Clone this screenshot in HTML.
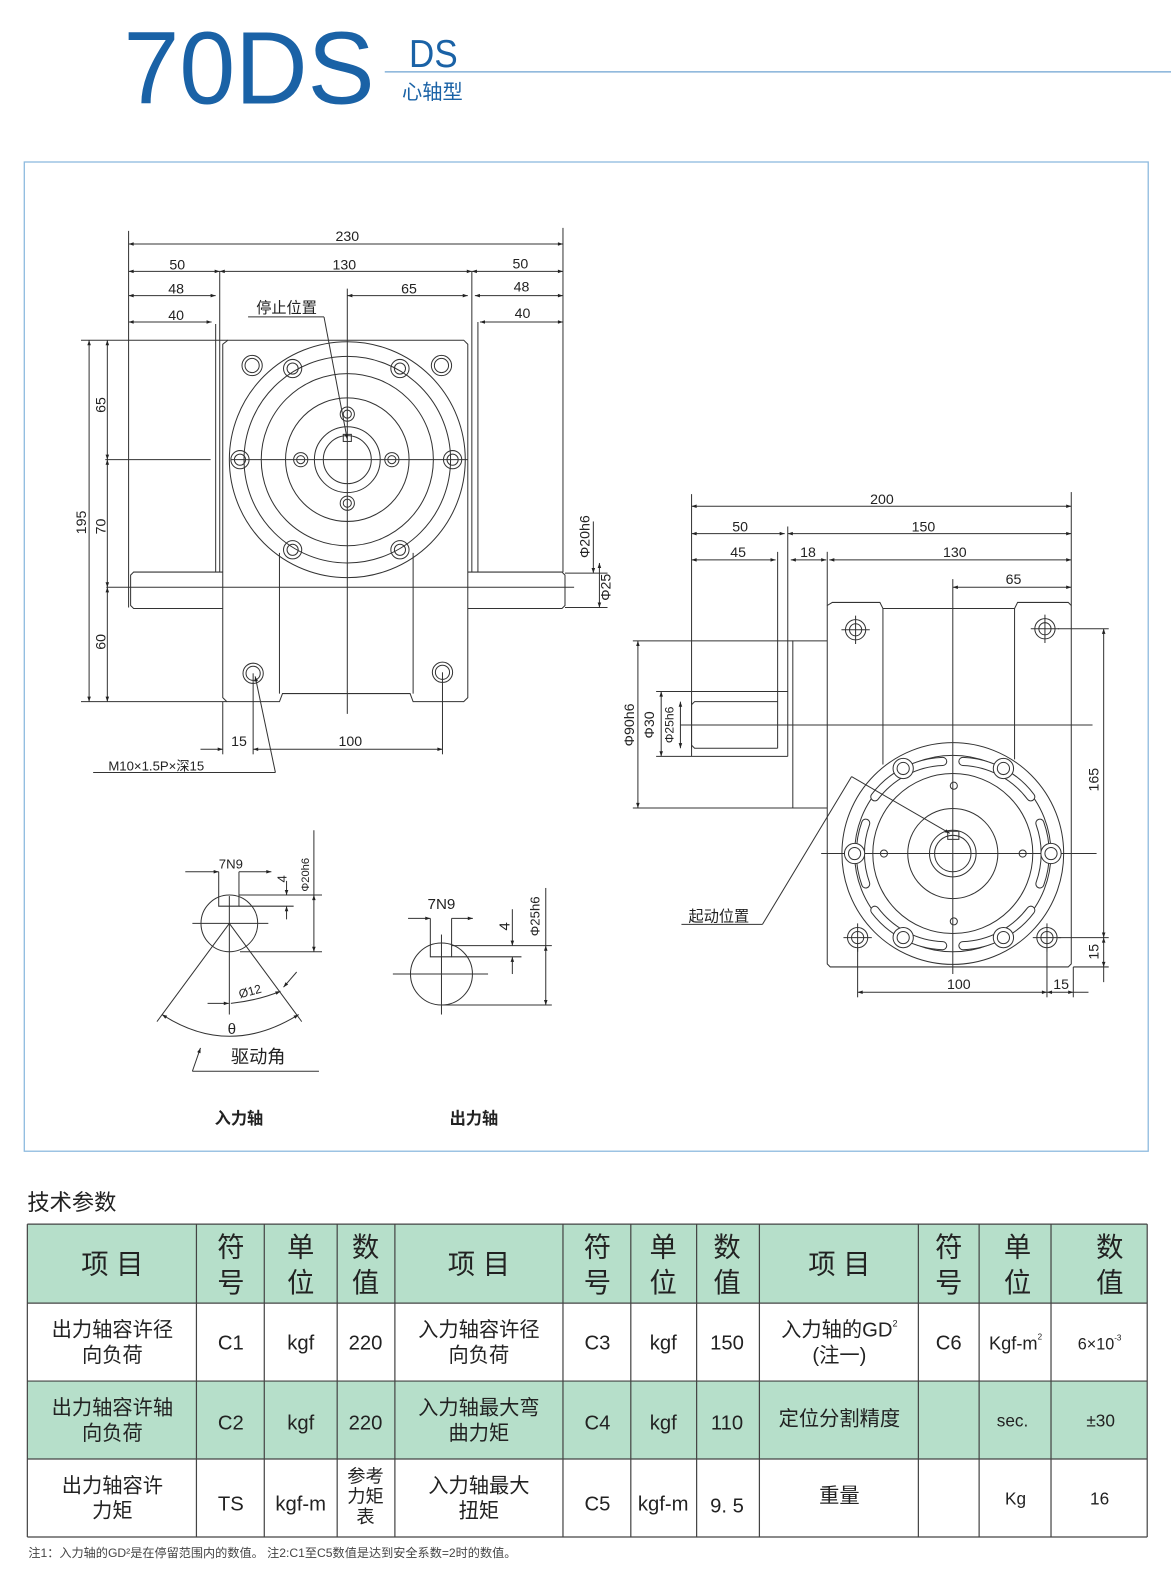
<!DOCTYPE html>
<html><head><meta charset="utf-8"><style>
html,body{margin:0;padding:0;background:#fff;}
svg{display:block;}
text{font-family:"Liberation Sans","Noto Sans CJK SC",sans-serif;fill:#222;}
</style></head><body>
<svg width="1171" height="1587" viewBox="0 0 1156.5 1567.4" preserveAspectRatio="none" xmlns="http://www.w3.org/2000/svg">
<defs>
<marker id="a" viewBox="0 0 10 10" refX="10" refY="5" markerWidth="7" markerHeight="5" orient="auto-start-reverse"><path d="M0,1.5 L10,5 L0,8.5z" fill="#222"/></marker>
</defs>
<!-- title -->
<text x="122" y="102" font-size="102" style="fill:#1a62a6" textLength="248" lengthAdjust="spacingAndGlyphs">70DS</text>
<text x="404" y="66" font-size="38" style="fill:#1a62a6" textLength="48" lengthAdjust="spacingAndGlyphs">DS</text>
<text x="397" y="98" font-size="20" style="fill:#1a62a6">心轴型</text>
<line x1="380" y1="71" x2="1157" y2="71" stroke="#6fa3d2" stroke-width="1.2"/>
<rect x="24" y="160" width="1110" height="977" fill="none" stroke="#8fbbdf" stroke-width="1.3"/>

<g stroke="#333" stroke-width="1" fill="none">
<!-- LEFT VIEW -->
<path d="M225,336 L458,336 L462,340 L462,689 L458,693 L408,693 L405,685 L279,685 L276,693 L224,693 L220,689 L220,340 Z"/>
<line x1="276" y1="546" x2="276" y2="685"/><line x1="408" y1="546" x2="408" y2="685"/>
<circle cx="343" cy="454" r="116.5"/><circle cx="343" cy="454" r="102"/><circle cx="343" cy="454" r="85"/>
<circle cx="343" cy="454" r="61"/><circle cx="343" cy="454" r="32.5"/><circle cx="343" cy="454" r="23.7"/>
<rect x="339" y="429" width="8" height="7"/>
<circle cx="249" cy="361" r="10"/><circle cx="249" cy="361" r="7"/>
<circle cx="436" cy="361" r="10"/><circle cx="436" cy="361" r="7"/>
<circle cx="250" cy="665" r="10"/><circle cx="250" cy="665" r="7"/>
<circle cx="437" cy="664" r="10"/><circle cx="437" cy="664" r="7"/>
<circle cx="289" cy="364" r="9"/><circle cx="289" cy="364" r="5.5"/>
<circle cx="395" cy="364" r="9"/><circle cx="395" cy="364" r="5.5"/>
<circle cx="289" cy="543" r="9"/><circle cx="289" cy="543" r="5.5"/>
<circle cx="395" cy="543" r="9"/><circle cx="395" cy="543" r="5.5"/>
<circle cx="237" cy="454" r="9"/><circle cx="237" cy="454" r="5.5"/>
<circle cx="447" cy="454" r="9"/><circle cx="447" cy="454" r="5.5"/>
<circle cx="343" cy="409" r="7"/><circle cx="343" cy="409" r="4"/>
<circle cx="343" cy="497" r="7"/><circle cx="343" cy="497" r="4"/>
<circle cx="297" cy="454" r="7"/><circle cx="297" cy="454" r="4"/>
<circle cx="387" cy="454" r="7"/><circle cx="387" cy="454" r="4"/>
<!-- shafts -->
<path d="M220,565 L132,565 L129,568 L129,598 L132,601 L220,601"/>
<path d="M462,565 L555,565 L558,568 L558,598 L555,601 L462,601"/>
<line x1="213" y1="320" x2="213" y2="565"/><line x1="217" y1="268" x2="217" y2="565"/>
<line x1="466" y1="268" x2="466" y2="565"/><line x1="472" y1="318" x2="472" y2="565"/>
<line x1="127" y1="228" x2="127" y2="600"/><line x1="556" y1="225" x2="556" y2="565"/>
<!-- centerlines -->
<line x1="104" y1="454" x2="208" y2="454"/><line x1="228" y1="454" x2="462" y2="454"/>
<line x1="105" y1="580" x2="567" y2="580"/>
<line x1="343" y1="285" x2="343" y2="705"/>
<line x1="80" y1="336" x2="225" y2="336"/><line x1="80" y1="693" x2="224" y2="693"/>
<!-- top dims -->
<line x1="127" y1="241" x2="556" y2="241" marker-start="url(#a)" marker-end="url(#a)"/>
<line x1="127" y1="268" x2="217" y2="268" marker-start="url(#a)" marker-end="url(#a)"/>
<line x1="217" y1="268" x2="466" y2="268" marker-start="url(#a)" marker-end="url(#a)"/>
<line x1="466" y1="268" x2="556" y2="268" marker-start="url(#a)" marker-end="url(#a)"/>
<line x1="127" y1="292" x2="213" y2="292" marker-start="url(#a)" marker-end="url(#a)"/>
<line x1="343" y1="292" x2="462" y2="292" marker-start="url(#a)" marker-end="url(#a)"/>
<line x1="469" y1="292" x2="556" y2="292" marker-start="url(#a)" marker-end="url(#a)"/>
<line x1="127" y1="318" x2="209" y2="318" marker-start="url(#a)" marker-end="url(#a)"/>
<line x1="474" y1="318" x2="556" y2="318" marker-start="url(#a)" marker-end="url(#a)"/>
<line x1="245" y1="313" x2="320" y2="313"/><line x1="320" y1="313" x2="343" y2="434" marker-end="url(#a)"/>
<!-- left vertical dims -->
<line x1="88" y1="336" x2="88" y2="693" marker-start="url(#a)" marker-end="url(#a)"/>
<line x1="106" y1="336" x2="106" y2="454" marker-start="url(#a)" marker-end="url(#a)"/>
<line x1="106" y1="454" x2="106" y2="580" marker-start="url(#a)" marker-end="url(#a)"/>
<line x1="106" y1="580" x2="106" y2="693" marker-start="url(#a)" marker-end="url(#a)"/>
<!-- right shaft dims -->
<line x1="558" y1="566" x2="600" y2="566"/><line x1="558" y1="600" x2="600" y2="600"/>
<line x1="586" y1="515" x2="586" y2="566" marker-end="url(#a)"/>
<line x1="592" y1="556" x2="592" y2="600" marker-start="url(#a)" marker-end="url(#a)"/>
<!-- bottom dims -->
<line x1="220" y1="693" x2="220" y2="745"/><line x1="250" y1="665" x2="250" y2="745"/><line x1="437" y1="664" x2="437" y2="745"/>
<line x1="198" y1="740" x2="220" y2="740" marker-end="url(#a)"/>
<line x1="250" y1="740" x2="437" y2="740" marker-start="url(#a)" marker-end="url(#a)"/>
<line x1="92" y1="763" x2="272" y2="763"/><line x1="272" y1="763" x2="252" y2="668" marker-end="url(#a)"/>

<!-- RIGHT VIEW -->
<path d="M822,595 L869,595 L872,601 L1002,601 L1005,595 L1055,595 L1058,598 L1058,952 L1055,955 L820,955 L817,952 L817,598 Z"/>
<line x1="872" y1="601" x2="872" y2="755"/><line x1="1002" y1="601" x2="1002" y2="750"/>
<path d="M817,633 L783,633 L783,798 L817,798"/>
<path d="M778,683 L683,683 M683,693 L683,739 M778,747 L683,747"/>
<path d="M768,693 L686,693 L683,696 M683,736 L686,739 L768,739"/>
<line x1="683" y1="488" x2="683" y2="747"/>
<line x1="768" y1="545" x2="768" y2="739"/><line x1="778" y1="520" x2="778" y2="747"/>
<line x1="817" y1="545" x2="817" y2="598"/><line x1="1058" y1="486" x2="1058" y2="598"/>
<line x1="941" y1="572" x2="941" y2="962"/>
<line x1="672" y1="716" x2="1079" y2="716"/>
<line x1="811" y1="843" x2="1083" y2="843"/>
<circle cx="941" cy="843" r="109.5"/><circle cx="941" cy="843" r="97"/><circle cx="941" cy="843" r="79"/>
<circle cx="941" cy="843" r="44.5"/><circle cx="941" cy="843" r="23"/><circle cx="941" cy="843" r="18"/>
<rect x="936" y="821" width="11" height="8"/>
<circle cx="845" cy="622" r="10"/><circle cx="1032" cy="621" r="10"/><circle cx="847" cy="926" r="10"/><circle cx="1034" cy="926" r="10"/>
<circle cx="845" cy="622" r="6"/><circle cx="1032" cy="621" r="6"/><circle cx="847" cy="926" r="6"/><circle cx="1034" cy="926" r="6"/>
<path d="M831,622 h28 M845,608 v28 M1018,621 h28 M1032,607 v28 M833,926 h28 M847,912 v28 M1020,926 h28 M1034,912 v28"/>
<!-- slots -->
<path d="M864,787 A88,88 0 0 1 931,752" stroke-width="9" stroke-linecap="round"/>
<path d="M864,787 A88,88 0 0 1 931,752" stroke-width="7" stroke="#fff" stroke-linecap="round"/>
<path d="M951,752 A88,88 0 0 1 1018,787" stroke-width="9" stroke-linecap="round"/>
<path d="M951,752 A88,88 0 0 1 1018,787" stroke-width="7" stroke="#fff" stroke-linecap="round"/>
<path d="M855,813 A88,88 0 0 0 855,873" stroke-width="9" stroke-linecap="round"/>
<path d="M855,813 A88,88 0 0 0 855,873" stroke-width="7" stroke="#fff" stroke-linecap="round"/>
<path d="M1027,813 A88,88 0 0 1 1027,873" stroke-width="9" stroke-linecap="round"/>
<path d="M1027,813 A88,88 0 0 1 1027,873" stroke-width="7" stroke="#fff" stroke-linecap="round"/>
<path d="M864,899 A88,88 0 0 0 931,934" stroke-width="9" stroke-linecap="round"/>
<path d="M864,899 A88,88 0 0 0 931,934" stroke-width="7" stroke="#fff" stroke-linecap="round"/>
<path d="M951,934 A88,88 0 0 0 1018,899" stroke-width="9" stroke-linecap="round"/>
<path d="M951,934 A88,88 0 0 0 1018,899" stroke-width="7" stroke="#fff" stroke-linecap="round"/>
<g fill="#fff">
<circle cx="892" cy="759" r="10"/><circle cx="892" cy="759" r="6"/>
<circle cx="991" cy="759" r="10"/><circle cx="991" cy="759" r="6"/>
<circle cx="844" cy="843" r="10"/><circle cx="844" cy="843" r="6"/>
<circle cx="1038" cy="843" r="10"/><circle cx="1038" cy="843" r="6"/>
<circle cx="892" cy="926" r="10"/><circle cx="892" cy="926" r="6"/>
<circle cx="991" cy="926" r="10"/><circle cx="991" cy="926" r="6"/>
</g>
<circle cx="942" cy="776" r="3.5"/><circle cx="942" cy="910" r="3.5"/><circle cx="873" cy="843" r="3.5"/><circle cx="1010" cy="843" r="3.5"/>
<!-- right view dims -->
<line x1="683" y1="500" x2="1058" y2="500" marker-start="url(#a)" marker-end="url(#a)"/>
<line x1="683" y1="527" x2="775" y2="527" marker-start="url(#a)" marker-end="url(#a)"/>
<line x1="778" y1="527" x2="1058" y2="527" marker-start="url(#a)" marker-end="url(#a)"/>
<line x1="683" y1="553" x2="766" y2="553" marker-start="url(#a)" marker-end="url(#a)"/>
<line x1="781" y1="553" x2="816" y2="553" marker-start="url(#a)" marker-end="url(#a)"/>
<line x1="819" y1="553" x2="1058" y2="553" marker-start="url(#a)" marker-end="url(#a)"/>
<line x1="941" y1="580" x2="1058" y2="580" marker-start="url(#a)" marker-end="url(#a)"/>
<line x1="625" y1="633" x2="783" y2="633"/><line x1="625" y1="798" x2="783" y2="798"/>
<line x1="630" y1="633" x2="630" y2="798" marker-start="url(#a)" marker-end="url(#a)"/>
<line x1="648" y1="683" x2="683" y2="683"/><line x1="648" y1="747" x2="683" y2="747"/>
<line x1="653" y1="683" x2="653" y2="747" marker-start="url(#a)" marker-end="url(#a)"/>
<line x1="672" y1="693" x2="672" y2="739" marker-start="url(#a)" marker-end="url(#a)"/>
<line x1="1045" y1="621" x2="1095" y2="621"/><line x1="1045" y1="926" x2="1095" y2="926"/><line x1="1060" y1="955" x2="1095" y2="955"/>
<line x1="1090" y1="621" x2="1090" y2="926" marker-start="url(#a)" marker-end="url(#a)"/>
<line x1="1090" y1="926" x2="1090" y2="955" marker-start="url(#a)" marker-end="url(#a)"/>
<line x1="1090" y1="955" x2="1090" y2="970"/>
<line x1="847" y1="936" x2="847" y2="985"/><line x1="1034" y1="936" x2="1034" y2="985"/><line x1="1060" y1="955" x2="1060" y2="985"/>
<line x1="847" y1="980" x2="1034" y2="980" marker-start="url(#a)" marker-end="url(#a)"/>
<line x1="1034" y1="980" x2="1060" y2="980" marker-start="url(#a)" marker-end="url(#a)"/>
<line x1="1060" y1="980" x2="1075" y2="980"/>
<line x1="673" y1="913" x2="753" y2="913"/><line x1="753" y1="913" x2="841" y2="767"/>
<line x1="841" y1="767" x2="938" y2="823" marker-end="url(#a)"/>

<!-- INPUT SHAFT DETAIL -->
<circle cx="226.5" cy="912" r="28"/>
<path d="M216,861 L216,895 L236,895 L236,861"/>
<line x1="190" y1="912" x2="265" y2="912"/><line x1="226.5" y1="885" x2="226.5" y2="1002"/>
<line x1="183" y1="861" x2="216" y2="861" marker-end="url(#a)"/><line x1="268" y1="861" x2="236" y2="861" marker-start="url(#a)"/>
<line x1="236" y1="884" x2="318" y2="884"/><line x1="236" y1="895" x2="290" y2="895"/><line x1="237" y1="940" x2="318" y2="940"/>
<line x1="283" y1="870" x2="283" y2="884" marker-end="url(#a)"/><line x1="283" y1="908" x2="283" y2="895" marker-end="url(#a)"/>
<line x1="310" y1="820" x2="310" y2="884"/>
<line x1="310" y1="884" x2="310" y2="940" marker-start="url(#a)" marker-end="url(#a)"/>
<line x1="226.5" y1="912" x2="155" y2="1009"/><line x1="226.5" y1="912" x2="298" y2="1009"/>
<path d="M160,1002 Q226,1045 295,1002" marker-start="url(#a)" marker-end="url(#a)"/>
<path d="M228,991 Q255,988 277,979" marker-end="url(#a)"/>
<line x1="205" y1="991" x2="226" y2="991" marker-end="url(#a)"/>
<line x1="293" y1="960" x2="280" y2="975" marker-end="url(#a)"/>
<line x1="190" y1="1058" x2="315" y2="1058"/><line x1="190" y1="1058" x2="198" y2="1035" marker-end="url(#a)"/>

<!-- OUTPUT SHAFT DETAIL -->
<circle cx="436" cy="962" r="30.6"/>
<path d="M425,907 L425,945 L446,945 L446,907"/>
<line x1="388" y1="962" x2="482" y2="962"/><line x1="436" y1="923" x2="436" y2="1002"/>
<line x1="403" y1="907" x2="425" y2="907" marker-end="url(#a)"/><line x1="467" y1="907" x2="446" y2="907" marker-start="url(#a)"/>
<line x1="446" y1="934" x2="545" y2="934"/><line x1="446" y1="945" x2="515" y2="945"/><line x1="436" y1="992.6" x2="545" y2="992.6"/>
<line x1="506" y1="898" x2="506" y2="934" marker-end="url(#a)"/><line x1="506" y1="962" x2="506" y2="945" marker-end="url(#a)"/>
<line x1="539" y1="877" x2="539" y2="934"/>
<line x1="539" y1="934" x2="539" y2="992.6" marker-start="url(#a)" marker-end="url(#a)"/>
</g>

<!-- drawing texts -->
<g font-size="14" text-anchor="middle">
<text x="343" y="238">230</text>
<text x="175" y="266">50</text><text x="340" y="266">130</text><text x="514" y="265">50</text>
<text x="174" y="290">48</text><text x="404" y="290">65</text><text x="515" y="288">48</text>
<text x="174" y="316">40</text><text x="516" y="314">40</text>
<text x="283" y="309" font-size="15">停止位置</text>
<text x="236" y="737">15</text><text x="346" y="737">100</text>
<text x="871" y="498">200</text>
<text x="731" y="525">50</text><text x="912" y="525">150</text>
<text x="729" y="550">45</text><text x="798" y="550">18</text><text x="943" y="550">130</text>
<text x="1001" y="577">65</text>
<text x="947" y="977">100</text><text x="1048" y="977">15</text>
<text x="710" y="910" font-size="15">起动位置</text>
<text x="228" y="858" font-size="13">7N9</text>
<text x="436" y="898" font-size="15">7N9</text>
<text x="229" y="1021" font-size="15">θ</text>
<text x="255" y="1050" font-size="18">驱动角</text>
<text x="236" y="1110" font-size="16" font-weight="bold">入力轴</text>
<text x="468" y="1110" font-size="16" font-weight="bold">出力轴</text>
</g>
<text x="107" y="761" font-size="13">M10×1.5P×深15</text>
<text transform="translate(248,983) rotate(-15)" font-size="12" text-anchor="middle">Ø12</text>
<g font-size="14" text-anchor="middle">
<text transform="translate(85,516) rotate(-90)">195</text>
<text transform="translate(104,400) rotate(-90)">65</text>
<text transform="translate(104,520) rotate(-90)">70</text>
<text transform="translate(104,634) rotate(-90)">60</text>
<text transform="translate(582,530) rotate(-90)">Φ20h6</text>
<text transform="translate(603,580) rotate(-90)">Φ25</text>
<text transform="translate(626,716) rotate(-90)">Φ90h6</text>
<text transform="translate(646,716) rotate(-90)">Φ30</text>
<text transform="translate(665,716) rotate(-90)" font-size="12">Φ25h6</text>
<text transform="translate(1085,770) rotate(-90)">165</text>
<text transform="translate(1085,940) rotate(-90)">15</text>
<text transform="translate(305,864) rotate(-90)" font-size="11">Φ20h6</text>
<text transform="translate(283,868) rotate(-90)" font-size="13">4</text>
<text transform="translate(503,915) rotate(-90)" font-size="15">4</text>
<text transform="translate(533,905) rotate(-90)" font-size="13">Φ25h6</text>
</g>

<!-- TABLE -->
<text x="27" y="1195" font-size="22">技术参数</text>
<rect x="27" y="1209" width="1106" height="78" fill="#b6dfca"/>
<rect x="27" y="1364" width="1106" height="77" fill="#b6dfca"/>
<g stroke="#444" stroke-width="1.2">
<line x1="27" y1="1209" x2="1133" y2="1209"/><line x1="27" y1="1287" x2="1133" y2="1287"/>
<line x1="27" y1="1364" x2="1133" y2="1364"/><line x1="27" y1="1441" x2="1133" y2="1441"/>
<line x1="27" y1="1518" x2="1133" y2="1518"/>
<line x1="27" y1="1209" x2="27" y2="1518"/><line x1="194" y1="1209" x2="194" y2="1518"/>
<line x1="261" y1="1209" x2="261" y2="1518"/><line x1="333" y1="1209" x2="333" y2="1518"/>
<line x1="390" y1="1209" x2="390" y2="1518"/><line x1="556" y1="1209" x2="556" y2="1518"/>
<line x1="623" y1="1209" x2="623" y2="1518"/><line x1="688" y1="1209" x2="688" y2="1518"/>
<line x1="750" y1="1209" x2="750" y2="1518"/><line x1="907" y1="1209" x2="907" y2="1518"/>
<line x1="967" y1="1209" x2="967" y2="1518"/><line x1="1038" y1="1209" x2="1038" y2="1518"/>
<line x1="1133" y1="1209" x2="1133" y2="1518"/>
</g>
<g font-size="27" text-anchor="middle">
<text x="111" y="1258">项 目</text><text x="473" y="1258">项 目</text><text x="829" y="1258">项 目</text>
<text x="228" y="1241">符</text><text x="228" y="1276">号</text>
<text x="297" y="1241">单</text><text x="297" y="1276">位</text>
<text x="361" y="1241">数</text><text x="361" y="1276">值</text>
<text x="590" y="1241">符</text><text x="590" y="1276">号</text>
<text x="655" y="1241">单</text><text x="655" y="1276">位</text>
<text x="718" y="1241">数</text><text x="718" y="1276">值</text>
<text x="937" y="1241">符</text><text x="937" y="1276">号</text>
<text x="1005" y="1241">单</text><text x="1005" y="1276">位</text>
<text x="1096" y="1241">数</text><text x="1096" y="1276">值</text>
</g>
<g font-size="20" text-anchor="middle">
<text x="111" y="1320">出力轴容许径</text><text x="111" y="1345">向负荷</text>
<text x="228" y="1333">C1</text><text x="297" y="1333">kgf</text><text x="361" y="1333">220</text>
<text x="473" y="1320">入力轴容许径</text><text x="473" y="1345">向负荷</text>
<text x="590" y="1333">C3</text><text x="655" y="1333">kgf</text><text x="718" y="1333">150</text>
<text x="829" y="1320">入力轴的GD<tspan font-size="9" dy="-10">2</tspan></text><text x="829" y="1345">(注一)</text>
<text x="937" y="1333">C6</text>
<text x="1003" y="1333" font-size="18">Kgf-m<tspan font-size="8" dy="-10">2</tspan></text>
<text x="1086" y="1333" font-size="16">6×10<tspan font-size="8" dy="-9">-3</tspan></text>
<text x="111" y="1397">出力轴容许轴</text><text x="111" y="1422">向负荷</text>
<text x="228" y="1412">C2</text><text x="297" y="1412">kgf</text><text x="361" y="1412">220</text>
<text x="473" y="1397">入力轴最大弯</text><text x="473" y="1422">曲力矩</text>
<text x="590" y="1412">C4</text><text x="655" y="1412">kgf</text><text x="718" y="1412">110</text>
<text x="829" y="1408">定位分割精度</text>
<text x="1000" y="1409" font-size="17">sec.</text><text x="1087" y="1409" font-size="17">±30</text>
<text x="111" y="1474">出力轴容许</text><text x="111" y="1499">力矩</text>
<text x="228" y="1492">TS</text><text x="297" y="1492">kgf-m</text>
<text x="361" y="1464" font-size="18">参考</text><text x="361" y="1484" font-size="18">力矩</text><text x="361" y="1504" font-size="18">表</text>
<text x="473" y="1474">入力轴最大</text><text x="473" y="1499">扭矩</text>
<text x="590" y="1492">C5</text><text x="655" y="1492">kgf-m</text><text x="718" y="1494">9. 5</text>
<text x="829" y="1484">重量</text>
<text x="1003" y="1486" font-size="17">Kg</text><text x="1086" y="1486" font-size="17">16</text>
</g>
<text x="28" y="1538" font-size="12" style="fill:#444">注1：入力轴的GD²是在停留范围内的数值。  注2:C1至C5数值是达到安全系数=2时的数值。</text>
</svg>
</body></html>
